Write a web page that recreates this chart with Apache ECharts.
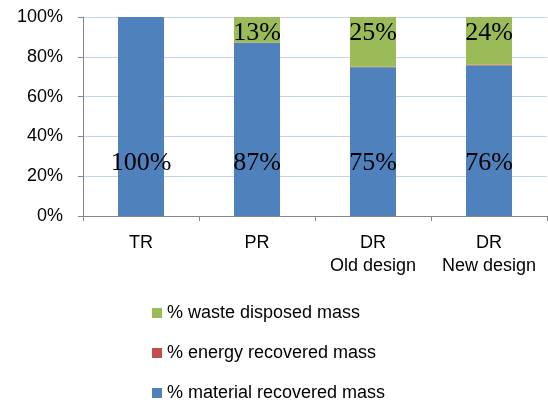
<!DOCTYPE html>
<html>
<head>
<meta charset="utf-8">
<script src="https://cdn.jsdelivr.net/npm/echarts@6/dist/echarts.min.js"></script>
<style>
  html, body { margin: 0; padding: 0; background: #fff; }
  #chart { width: 548px; height: 405px; }
</style>
</head>
<body>
<div id="chart"></div>
<script>
// categories and stacked shares (%)
const categories = ['TR', 'PR', 'DR\nOld design', 'DR\nNew design'];
const materialRecovered = [100, 87, 74.7, 75.6];
const energyRecovered = [0, 0, 0.3, 0.4];
const wasteDisposed = [0, 13, 25, 24];
const yTicks = [0, 20, 40, 60, 80, 100];

const labelFont = 'Liberation Serif, Times New Roman, serif';
const axisFont = 'Liberation Sans, Arial, sans-serif';

function pct(p) {
  if (!p.value) return '';
  return Math.round(p.value) + '%';
}

let myChart = echarts.init(document.getElementById('chart'));
let options = {
  animation: false,
  grid: { left: 83, right: 1, top: 17, bottom: 189 },
  legend: {
    orient: 'vertical',
    left: 152,
    top: 303,
    bottom: 0,
    padding: 0,
    icon: 'rect',
    itemWidth: 10,
    itemHeight: 10,
    itemGap: 20,
    textStyle: { fontFamily: axisFont, fontSize: 18, lineHeight: 20, color: '#000' },
    data: ['% waste disposed mass', '% energy recovered mass', '% material recovered mass']
  },
  xAxis: {
    type: 'category',
    data: categories,
    axisLine: { lineStyle: { color: '#868686', width: 1 } },
    axisTick: { show: true, length: 5, lineStyle: { color: '#868686' } },
    axisLabel: {
      fontFamily: axisFont, fontSize: 18, color: '#000',
      margin: 16, lineHeight: 23, interval: 0
    }
  },
  yAxis: {
    type: 'value',
    min: yTicks[0],
    max: yTicks[yTicks.length - 1],
    interval: 20,
    axisLine: { show: true, lineStyle: { color: '#868686', width: 1 } },
    axisTick: { show: true, length: 5, lineStyle: { color: '#868686' } },
    axisLabel: {
      fontFamily: axisFont, fontSize: 18, color: '#000', margin: 20,
      formatter: '{value}%'
    },
    splitLine: { lineStyle: { color: '#C3D5EC', width: 1 } }
  },
  series: [
    {
      name: '% material recovered mass',
      type: 'bar',
      stack: 'all',
      barWidth: 46,
      itemStyle: { color: '#4F81BD' },
      label: {
        show: true, position: 'insideBottom', distance: 40,
        fontFamily: labelFont, fontSize: 26, color: '#000', formatter: pct
      },
      data: materialRecovered
    },
    {
      name: '% energy recovered mass',
      type: 'bar',
      stack: 'all',
      itemStyle: { color: '#C0504D' },
      data: energyRecovered
    },
    {
      name: '% waste disposed mass',
      type: 'bar',
      stack: 'all',
      itemStyle: { color: '#9BBB59' },
      label: {
        show: true, position: 'insideTop', distance: 3,
        fontFamily: labelFont, fontSize: 26, color: '#000', formatter: pct
      },
      data: wasteDisposed
    }
  ]
};
myChart.setOption(options);
</script>
</body>
</html>
